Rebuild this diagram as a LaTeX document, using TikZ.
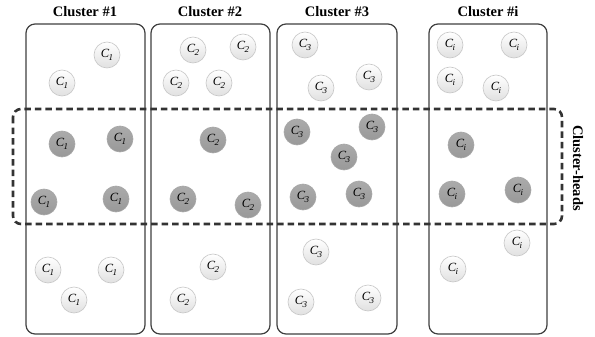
\documentclass[tikz,border=0pt]{standalone}
\usepackage{fontspec}
\setmainfont{Liberation Serif}
\begin{document}
\begin{tikzpicture}[x=1pt,y=-1pt,
  clbox/.style={draw=black!75,line width=1.2pt,rounded corners=9pt},
  title/.style={font=\fontsize{14.5}{16}\selectfont\bfseries,anchor=center},
  wnode/.style={circle,minimum size=26pt,inner sep=0pt,draw=black!22,line width=0.6pt,top color=white,bottom color=black!12,font=\fontsize{12.5}{14}\selectfont},
  gnode/.style={circle,minimum size=26pt,inner sep=0pt,draw=black!35,line width=0.6pt,top color=black!33,bottom color=black!40,font=\fontsize{12.5}{14}\selectfont},
  headbox/.style={draw=black!80,line width=2.6pt,dash pattern=on 6.5pt off 4pt,rounded corners=8pt}
]
\useasboundingbox[fill=white] (0,0) rectangle (595,337);
\newcommand{\Cn}[1]{\textit{C}\kern-0.5pt\raisebox{-2.5pt}{\fontsize{9}{10}\selectfont\textit{#1}}}
% cluster boxes
\draw[clbox] (26,24) rectangle (145,334);
\draw[clbox] (151,24) rectangle (270,334);
\draw[clbox] (277,24) rectangle (397,334);
\draw[clbox] (429,24) rectangle (547,334);
% titles
\node[title] (t1) at (85,12) {Cluster \#1};
\node[title] (t2) at (210,12) {Cluster \#2};
\node[title] (t3) at (337,12) {Cluster \#3};
\node[title] (ti) at (488,12) {Cluster \#i};
% cluster 1
\node[wnode] (a1) at (107,55) {\Cn{1}};
\node[wnode] (a2) at (62,83) {\Cn{1}};
\node[gnode] (a3) at (62,144) {\Cn{1}};
\node[gnode] (a4) at (120,139) {\Cn{1}};
\node[gnode] (a5) at (44,202) {\Cn{1}};
\node[gnode] (a6) at (116,199) {\Cn{1}};
\node[wnode] (a7) at (48,270) {\Cn{1}};
\node[wnode] (a8) at (111,270) {\Cn{1}};
\node[wnode] (a9) at (74,300) {\Cn{1}};
% cluster 2
\node[wnode] (b1) at (193,50) {\Cn{2}};
\node[wnode] (b2) at (243,47) {\Cn{2}};
\node[wnode] (b3) at (176,83) {\Cn{2}};
\node[wnode] (b4) at (219,83) {\Cn{2}};
\node[gnode] (b5) at (213,140) {\Cn{2}};
\node[gnode] (b6) at (183,199) {\Cn{2}};
\node[gnode] (b7) at (248,205) {\Cn{2}};
\node[wnode] (b8) at (213,267) {\Cn{2}};
\node[wnode] (b9) at (183,300) {\Cn{2}};
% cluster 3
\node[wnode] (c1) at (305,45) {\Cn{3}};
\node[wnode] (c2) at (321,88) {\Cn{3}};
\node[wnode] (c3) at (369,77) {\Cn{3}};
\node[gnode] (c4) at (297,132) {\Cn{3}};
\node[gnode] (c5) at (372,127) {\Cn{3}};
\node[gnode] (c6) at (344,157) {\Cn{3}};
\node[gnode] (c7) at (303,197) {\Cn{3}};
\node[gnode] (c8) at (359,194) {\Cn{3}};
\node[wnode] (c9) at (316,252) {\Cn{3}};
\node[wnode] (c10) at (301,302) {\Cn{3}};
\node[wnode] (c11) at (368,298) {\Cn{3}};
% cluster i
\node[wnode] (d1) at (450,45) {\Cn{i}};
\node[wnode] (d2) at (514,45) {\Cn{i}};
\node[wnode] (d3) at (450,80) {\Cn{i}};
\node[wnode] (d4) at (496,88) {\Cn{i}};
\node[gnode] (d5) at (461,145) {\Cn{i}};
\node[gnode] (d6) at (452,194) {\Cn{i}};
\node[gnode] (d7) at (518,190) {\Cn{i}};
\node[wnode] (d8) at (517,243) {\Cn{i}};
\node[wnode] (d9) at (453,269) {\Cn{i}};
% cluster heads
\draw[headbox] (13,109) rectangle (562,224);
\node[title,rotate=-90] (ch) at (578,168) {Cluster-heads};
\end{tikzpicture}
\end{document}
